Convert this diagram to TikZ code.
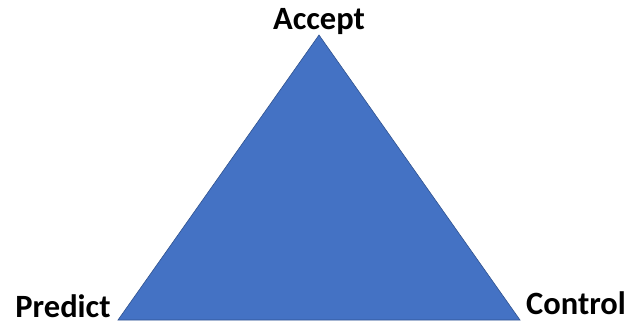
\documentclass[tikz,border=0pt]{standalone}
\usepackage{fontspec}
\setmainfont{Carlito}
\definecolor{triblue}{HTML}{4472C4}
\definecolor{triedge}{HTML}{2F528F}
\tikzset{lbl/.style={font=\bfseries\fontsize{32.5}{36}\selectfont, inner sep=0pt, anchor=base}}
\begin{document}
\begin{tikzpicture}[x=1pt,y=-1pt]
\useasboundingbox (0,0) rectangle (631,324);
\coordinate (top) at (319,35);
\coordinate (bl) at (118,320);
\coordinate (br) at (520,320);
\filldraw[fill=triblue, draw=triedge, line width=0.6pt] (top) -- (bl) -- (br) -- cycle;
\node[lbl] (accept) at (319,29) {Accept};
\node[lbl] (predict) at (63,317) {Predict};
\node[lbl] (control) at (576,314.5) {Control};
\end{tikzpicture}
\end{document}
